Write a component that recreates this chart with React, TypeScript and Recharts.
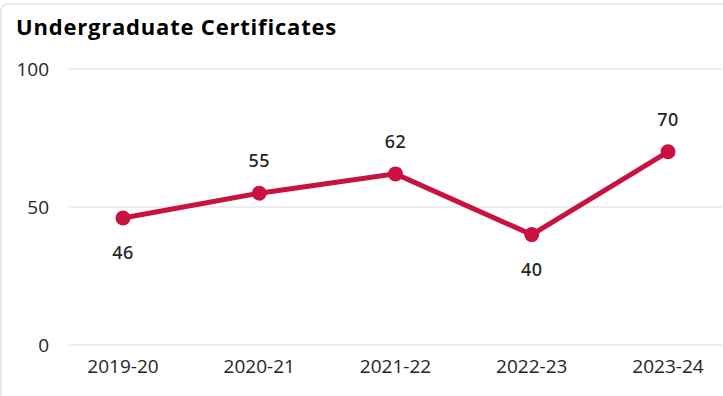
import { CartesianGrid, LabelList, Line, LineChart, XAxis, YAxis } from "recharts"

const years = ["2019-20", "2020-21", "2021-22", "2022-23", "2023-24"]
const certificates = [46, 55, 62, 40, 70]
const yTicks = [0, 50, 100]

const data = years.map((year, i) => ({ year, value: certificates[i] }))

const LINE_COLOR = "#C8123F"
const TEXT_COLOR = "#252423"
const FONT = "'Open Sans', 'Noto Sans', sans-serif"

// label goes under the point when it is a dip compared to its neighbours
function isLow(i: number) {
  const v = certificates[i]
  const prev = certificates[i - 1]
  const next = certificates[i + 1]
  if (prev !== undefined && v > prev) return false
  if (next !== undefined && v > next) return false
  return true
}

function PointLabel(props: any) {
  const { x, y, value, index } = props
  const dy = isLow(index) ? 34 : -33
  return (
    <text
      x={x}
      y={y + dy}
      textAnchor="middle"
      dominantBaseline="central"
      fill={TEXT_COLOR}
      fontSize={18}
      fontWeight={500}
      fontFamily="'Noto Sans', sans-serif"
      letterSpacing={0.5}
    >
      {value}
    </text>
  )
}

export default function App() {
  return (
    <div style={{ position: "absolute", left: 0, top: 0, width: 723, height: 396, overflow: "hidden", background: "#fff" }}>
      <div
        style={{
          position: "absolute",
          left: 0,
          top: 3,
          width: 760,
          height: 420,
          border: "2px solid #e9e9e9",
          borderRadius: 8,
          boxSizing: "border-box",
        }}
      />
      <div
        style={{
          position: "absolute",
          left: 16,
          top: 11,
          fontFamily: FONT,
          fontWeight: 700,
          fontSize: 22,
          letterSpacing: 0.8,
          color: "#000",
          whiteSpace: "nowrap",
        }}
      >
        Undergraduate Certificates
      </div>
      <div style={{ position: "absolute", left: 0, top: 0 }}>
        <LineChart width={723} height={396} data={data} margin={{ top: 69, right: 1, bottom: 0, left: 0 }}>
          <CartesianGrid vertical={false} stroke="#e6e6e6" strokeWidth={1.5} />
          <XAxis
            dataKey="year"
            axisLine={false}
            tickLine={false}
            tickSize={0}
            tickMargin={15}
            height={51}
            padding={{ left: 54, right: 54 }}
            tick={{ fill: TEXT_COLOR, fontSize: 19, fontFamily: FONT }}
          />
          <YAxis
            domain={[0, 100]}
            ticks={yTicks}
            axisLine={false}
            tickLine={false}
            tickSize={0}
            tickMargin={20}
            width={69}
            tick={{ fill: TEXT_COLOR, fontSize: 19, fontFamily: FONT }}
          />
          <Line
            type="linear"
            dataKey="value"
            stroke={LINE_COLOR}
            strokeWidth={5}
            dot={{ r: 7.5, fill: LINE_COLOR, stroke: LINE_COLOR, strokeWidth: 0 }}
            activeDot={false}
            isAnimationActive={false}
          >
            <LabelList dataKey="value" content={<PointLabel />} />
          </Line>
        </LineChart>
      </div>
    </div>
  )
}
